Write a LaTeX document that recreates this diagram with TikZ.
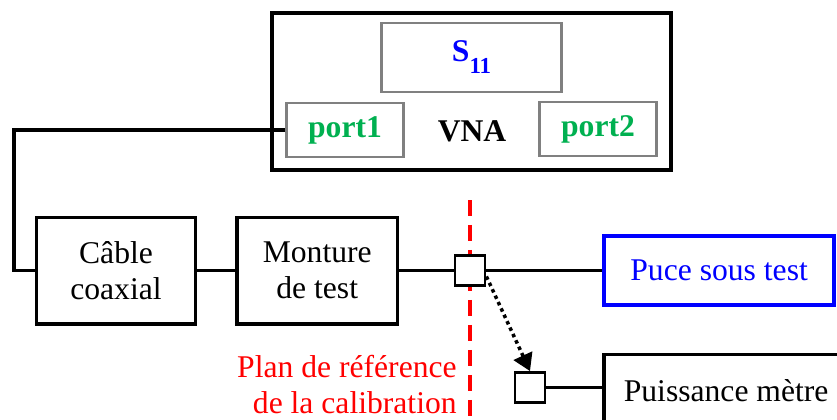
\documentclass[tikz,border=0pt]{standalone}
\usepackage{fontspec}
\setmainfont{Liberation Serif}
\usetikzlibrary{positioning, arrows.meta}
\definecolor{portgreen}{RGB}{0,176,80}
\definecolor{boxgray}{RGB}{128,128,128}
\definecolor{refred}{RGB}{255,0,0}
\definecolor{dutblue}{RGB}{0,0,255}

\begin{document}
\begin{tikzpicture}[x=0.02cm, y=-0.02cm,
    every node/.style={font=\fontsize{18}{20.5}\selectfont},
    bloc/.style={draw, rectangle, line width=2pt, align=center},
    sousbloc/.style={draw=boxgray, rectangle, line width=1.2pt, minimum width=2.34cm, minimum height=1.08cm, font=\fontsize{18}{20.5}\selectfont\bfseries, text=portgreen},
    carre/.style={draw, fill=white, rectangle, line width=1.6pt, minimum size=0.6cm, inner sep=0pt},
    fil/.style={line width=2pt}]
    \useasboundingbox (0,0) rectangle (837,419);

    % VNA
    \node[bloc, minimum width=7.98cm, minimum height=3.14cm] (vna) at (471.5,91.5) {};
    \node[draw=boxgray, line width=1.2pt, minimum width=3.6cm, minimum height=1.39cm, text=dutblue, font=\fontsize{18}{20.5}\selectfont\bfseries] (s11) at (471.5,57.5) {S\raisebox{-0.38em}{\fontsize{13}{13}\selectfont 11}};
    \node[sousbloc] (port1) at (345,130) {port1};
    \node[sousbloc] (port2) at (598,129) {port2};
    \node[font=\fontsize{18}{20.5}\selectfont\bfseries] (vnalabel) at (472,131) {VNA};

    % Reference plane
    \coordinate (haut) at (470,200);
    \coordinate (bas) at (470,425);
    \draw[refred, line width=2pt, dash pattern=on 0.32cm off 0.18cm] (haut) -- (bas);
    \node[text=refred, align=right, anchor=east, inner sep=0pt] (planlabel) at (457,385) {Plan de référence\\de la calibration};

    % Measurement chain
    \node[bloc, minimum width=3.19cm, minimum height=2.13cm] (cable) at (116,270.5) {Câble\\coaxial};
    \node[bloc, minimum width=3.22cm, minimum height=2.13cm, right=0.75cm of cable] (monture) {Monture\\de test};
    \node[carre] (plan) at (470,270.5) {};
    \node[bloc, draw=dutblue, text=dutblue, minimum width=4.6cm, minimum height=1.38cm, right=2.32cm of plan] (puce) {Puce sous test};
    \node[carre] (capteur) at (530,387.5) {};
    \node[bloc, minimum width=4.88cm, minimum height=1.45cm, right=1.12cm of capteur, yshift=-0.06cm] (puissance) {Puissance mètre};

    % Wires
    \coordinate (coude) at (14,270.5);
    \draw[fil] (port1.west) -| (coude) -- (cable.west);
    \draw[fil] (cable) -- (monture);
    \draw[fil] (monture) -- (plan);
    \draw[fil] (plan) -- (puce);
    \draw[fil] (capteur) -- (capteur -| puissance.west);
    \draw[fil, dash pattern=on 2pt off 2pt, -{Triangle[length=0.34cm, width=0.4cm]}] (plan.-20) -- (capteur.north);
\end{tikzpicture}
\end{document}
